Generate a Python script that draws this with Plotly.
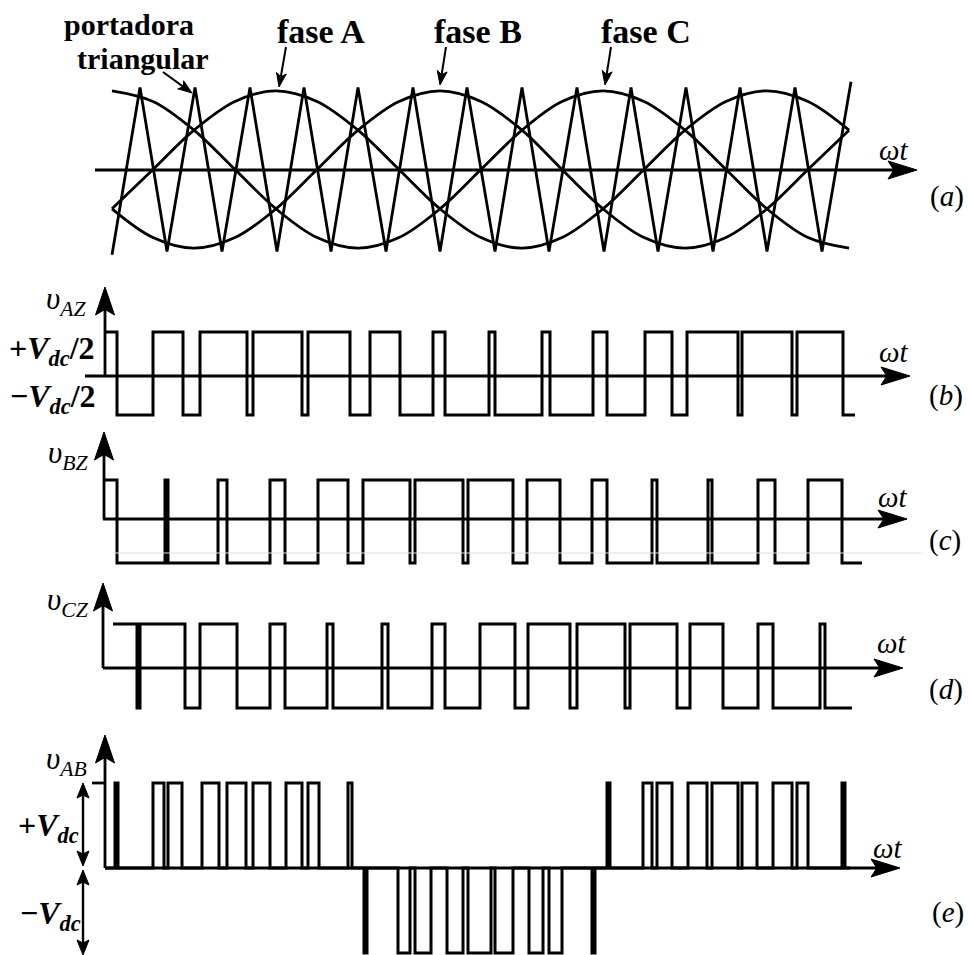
import plotly.graph_objects as go

W, H = 968, 955
FONT = "Liberation Serif"

# ---------------- data (ωt in arbitrary units) ----------------
# (a) modulating signals, sampled every 30° of the fundamental
sine_t = [112, 153, 194, 235, 276, 317, 358, 399, 440, 481, 522, 562, 603, 644, 685, 726, 767, 808, 849]
phase_A = [-0.48, 0, 0.48, 0.83, 0.96, 0.83, 0.48, 0, -0.48, -0.83, -0.96, -0.83, -0.48, 0, 0.48, 0.83, 0.96, 0.83, 0.48]
phase_B = [-0.48, -0.83, -0.96, -0.83, -0.48, 0, 0.48, 0.83, 0.96, 0.83, 0.48, 0, -0.48, -0.83, -0.96, -0.83, -0.48, 0, 0.48]
phase_C = [0.96, 0.83, 0.48, 0, -0.48, -0.83, -0.96, -0.83, -0.48, 0, 0.48, 0.83, 0.96, 0.83, 0.48, 0, -0.48, -0.83, -0.96]

# (a) triangular carrier vertices
carrier_t = [112, 140, 167, 195, 222, 250, 277, 304, 331, 358, 386, 413, 440, 467,
             495, 522, 549, 577, 604, 631, 658, 686, 713, 740, 767, 795, 822, 851]
carrier_v = [-1.04, 1, -1, 1, -1, 1, -1, 1, -1, 1, -1, 1, -1, 1,
             -1, 1, -1, 1, -1, 1, -1, 1, -1, 1, -1, 1, -1, 1.07]

# (b)-(d) pole voltages: start, initial level (+1 = +Vdc/2), switching instants, end
vAZ_start, vAZ_level0, vAZ_end = 105, 1, 855
vAZ_edges = [117, 153, 183, 200, 247, 253, 302, 308, 350, 370, 400, 433, 445, 489,
             495, 542, 550, 593, 607, 645, 672, 687, 738, 742, 792, 797, 843]
vBZ_start, vBZ_level0, vBZ_end = 103, 1, 862
vBZ_edges = [117, 165, 168, 218, 227, 270, 285, 318, 348, 363, 410, 415, 463, 468,
             513, 527, 560, 592, 607, 652, 657, 708, 712, 758, 775, 808, 842]
vCZ_start, vCZ_level0, vCZ_end = 113, 1, 852
vCZ_edges = [137, 140, 185, 200, 237, 270, 285, 327, 333, 382, 388, 432, 445, 480,
             515, 528, 570, 577, 625, 630, 677, 690, 723, 758, 773, 820, 825]

# (e) line voltage pulses (+1 = +Vdc, -1 = -Vdc)
vAB_start, vAB_end = 105, 850
vAB_on = [115, 153, 168, 202, 227, 253, 286, 308, 348,
          364, 398, 415, 447, 468, 495, 529, 549, 592,
          607, 643, 657, 688, 712, 742, 773, 797, 842]
vAB_off = [118, 164, 182, 219, 246, 270, 302, 319, 352,
           367, 410, 431, 463, 491, 513, 543, 562, 595,
           610, 652, 672, 707, 738, 757, 792, 808, 845]
vAB_level = [1, 1, 1, 1, 1, 1, 1, 1, 1,
             -1, -1, -1, -1, -1, -1, -1, -1, -1,
             1, 1, 1, 1, 1, 1, 1, 1, 1]

panel_tags = ["(<i>a</i>)", "(<i>b</i>)", "(<i>c</i>)", "(<i>d</i>)", "(<i>e</i>)"]
signal_names = ["<i>υ</i><sub><i>AZ</i></sub>", "<i>υ</i><sub><i>BZ</i></sub>",
                "<i>υ</i><sub><i>CZ</i></sub>", "<i>υ</i><sub><i>AB</i></sub>"]
phase_labels = ["fase A", "fase B", "fase C"]

# ---------------- helpers ----------------
def py(px):
    return 1 - px / H

def two_level(t0, lvl, edges, t1):
    xs, ys = [t0], [lvl]
    for e in edges:
        lvl = -lvl
        xs.append(e)
        ys.append(lvl)
    xs.append(t1)
    ys.append(lvl)
    return xs, ys

def three_level(t0, on, off, lev, t1):
    xs, ys = [t0], [0]
    for a, b, l in zip(on, off, lev):
        xs += [a, b]
        ys += [l, 0]
    xs.append(t1)
    ys.append(0)
    return xs, ys

# panels: (zero line in px, px per unit)
panels = {"y": (169.5, 82), "y2": (373.5, 41.5), "y3": (521.5, 41.5), "y4": (666, 42), "y5": (868, 85)}

def yrange(zero, unit):
    return [(zero - H) / unit, zero / unit]

fig = go.Figure()
BLK = "black"

# (a)
fig.add_trace(go.Scatter(x=carrier_t, y=carrier_v, mode="lines", line=dict(color=BLK, width=2.8), yaxis="y"))
for ph in (phase_A, phase_B, phase_C):
    fig.add_trace(go.Scatter(x=sine_t, y=ph, mode="lines", line=dict(color=BLK, width=2.8, shape="spline", smoothing=1.0), yaxis="y"))

# (b)-(d)
for (t0, l0, ed, t1), ax in [((vAZ_start, vAZ_level0, vAZ_edges, vAZ_end), "y2"),
                             ((vBZ_start, vBZ_level0, vBZ_edges, vBZ_end), "y3"),
                             ((vCZ_start, vCZ_level0, vCZ_edges, vCZ_end), "y4")]:
    xs, ys = two_level(t0, l0, ed, t1)
    fig.add_trace(go.Scatter(x=xs, y=ys, mode="lines", line=dict(color=BLK, width=3, shape="hv"), yaxis=ax))

# (e)
xs, ys = three_level(vAB_start, vAB_on, vAB_off, vAB_level, vAB_end)
fig.add_trace(go.Scatter(x=xs, y=ys, mode="lines", line=dict(color=BLK, width=3, shape="hv"), yaxis="y5"))

# ---------------- axes decorations ----------------
shapes = []

def line(x0, y0, x1, y1, w=2.8, color=BLK):
    shapes.append(dict(type="line", xref="x", yref="paper", x0=x0, x1=x1, y0=py(y0), y1=py(y1),
                       line=dict(color=color, width=w)))

def head(tx, ty, d, L, hw):
    n = 0.8 * L
    if d == "r":
        pts = [(tx, ty), (tx - L, ty - hw), (tx - n, ty), (tx - L, ty + hw)]
    elif d == "u":
        pts = [(tx, ty), (tx - hw, ty + L), (tx, ty + n), (tx + hw, ty + L)]
    else:
        pts = [(tx, ty), (tx - hw, ty - L), (tx, ty - n), (tx + hw, ty - L)]
    path = "M " + " L ".join(f"{x},{py(y)}" for x, y in pts) + " Z"
    shapes.append(dict(type="path", xref="x", yref="paper", path=path, fillcolor=BLK, line=dict(color=BLK, width=1)))

def slanted_arrow(x0, y0, x1, y1, L=14, hw=5):
    # straight pointer from (x0,y0) to tip (x1,y1), px units
    dx, dy = x1 - x0, y1 - y0
    n = (dx * dx + dy * dy) ** 0.5
    ux, uy = dx / n, dy / n
    bx, by = x1 - ux * L, y1 - uy * L
    line(x0, y0, x1 - ux * L * 0.6, y1 - uy * L * 0.6, w=2)
    pts = [(x1, y1), (bx - uy * hw, by + ux * hw), (x1 - ux * L * 0.75, y1 - uy * L * 0.75), (bx + uy * hw, by - ux * hw)]
    path = "M " + " L ".join(f"{x},{py(y)}" for x, y in pts) + " Z"
    shapes.append(dict(type="path", xref="x", yref="paper", path=path, fillcolor=BLK, line=dict(color=BLK, width=1)))

# horizontal ωt axes: (x start, x tip, y px)
h_axes = [(95, 917, 170), (85, 910, 376), (103, 907, 519), (103, 903, 668), (105, 900, 868)]
for x0, x1, y in h_axes:
    line(x0, y, x1 - 20, y)
    head(x1, y, "r", 29, 9)
# vertical axes: (x, y bottom, y tip)
v_axes = [(105, 376, 287), (104, 519, 432), (103, 668, 583), (105, 868, 735)]
for x, yb, yt in v_axes:
    line(x, yb, x, yt + 20)
    head(x, yt, "u", 28, 9.5)

# vAB level marks
line(92, 783, 105, 783)
line(83, 795, 83, 855, w=2.4)
head(83, 783, "u", 15, 6)
head(83, 866, "d", 15, 6)
line(83, 882, 83, 945, w=2.4)
head(83, 870, "u", 15, 6)
head(83, 955, "d", 15, 6)

# pointers of the top labels
slanted_arrow(163, 72, 192, 93)
slanted_arrow(286, 47, 279, 87)
slanted_arrow(446, 47, 440, 85)
slanted_arrow(611, 47, 605, 85)

# faint scan line in (c)
line(113, 553, 923, 553, w=1, color="#e0e0e0")

# ---------------- text ----------------
ann = []

def txt(s, x, y, size):
    ann.append(dict(text=s, x=x, y=py(y), xref="x", yref="paper", showarrow=False,
                    xanchor="center", yanchor="middle",
                    font=dict(family=FONT, size=size, color=BLK)))

txt("<b>portadora</b>", 129, 25, 30)
txt("<b>triangular</b>", 143, 58, 30)
for lab, x in zip(phase_labels, [321, 478, 646]):
    txt(f"<b>{lab}</b>", x, 32, 34)

for (x, y) in [(893, 150), (893, 352), (892, 497), (891, 643), (887, 848)]:
    txt("<i>ωt</i>", x, y, 29)
for tag, (x, y) in zip(panel_tags, [(947, 197), (946, 395), (945, 540), (946, 689), (948, 912)]):
    txt(tag, x, y, 29)
for nm, (x, y) in zip(signal_names, [(66, 301), (68, 455), (68, 602), (66, 761)]):
    txt(nm, x, y, 31)

txt("<b>+<i>V</i><sub><i>dc</i></sub>/2</b>", 52, 350, 32)
txt("<b>−<i>V</i><sub><i>dc</i></sub>/2</b>", 53, 398, 32)
txt("<b>+<i>V</i><sub><i>dc</i></sub></b>", 48, 827, 32)
txt("<b>−<i>V</i><sub><i>dc</i></sub></b>", 50, 915, 32)

layout = dict(
    width=W, height=H, margin=dict(l=0, r=0, t=0, b=0),
    paper_bgcolor="white", plot_bgcolor="white", showlegend=False,
    xaxis=dict(range=[0, W], visible=False, domain=[0, 1], fixedrange=True),
    shapes=shapes, annotations=ann,
)
for k, (z, u) in panels.items():
    name = "yaxis" if k == "y" else "yaxis" + k[1:]
    d = dict(range=yrange(z, u), visible=False, fixedrange=True)
    if k == "y":
        d["domain"] = [0, 1]
    else:
        d["overlaying"] = "y"
    layout[name] = d

fig.update_layout(**layout)
fig.write_html("out.html")
